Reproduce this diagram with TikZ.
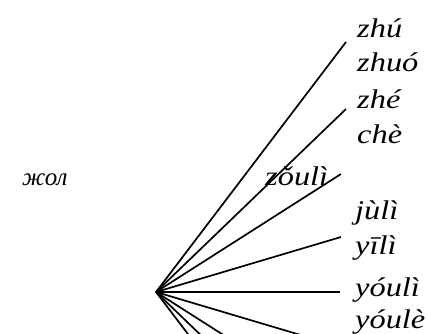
\documentclass[tikz,border=0pt]{standalone}
\usepackage{fontspec}
\setmainfont{Liberation Serif}
\newfontfamily\pyfont[FakeStretch=1.2]{Liberation Serif}
\begin{document}
\begin{tikzpicture}[x=1pt,y=-1pt,
  lbl/.style={anchor=base west,inner sep=0pt,font=\pyfont\fontsize{27}{30}\selectfont\itshape},
  cyr/.style={anchor=base west,inner sep=0pt,font=\fontsize{25}{28}\selectfont\itshape},
  branch/.style={line width=1.7pt}]
\useasboundingbox (0,0) rectangle (428,334);
\clip (0,0) rectangle (428,334);
\coordinate (o) at (156,292);
\coordinate (e1) at (346,42);
\coordinate (e2) at (346,109);
\coordinate (e3) at (341,174);
\coordinate (e4) at (341,237);
\coordinate (e5) at (340,292);
\coordinate (e6) at (341,347);
\coordinate (e7) at (341,410);
\coordinate (e8) at (346,475);
\coordinate (e9) at (346,542);
\foreach \i in {1,...,9} \draw[branch] (o) -- (e\i);
\node[lbl] (t1) at (357,38) {zhú};
\node[lbl] (t2) at (357,72) {zhuó};
\node[lbl] (t3) at (357,109) {zhé};
\node[lbl] (t4) at (357,143) {chè};
\node[lbl] (t5) at (265,185) {zǒulì};
\node[cyr] (t0) at (22,185) {жол};
\node[lbl] (t6) at (355,219) {jùlì};
\node[lbl] (t7) at (355,254) {yīlì};
\node[lbl] (t8) at (355,296) {yóulì};
\node[lbl] (t9) at (355,328) {yóulè};
\end{tikzpicture}
\end{document}
